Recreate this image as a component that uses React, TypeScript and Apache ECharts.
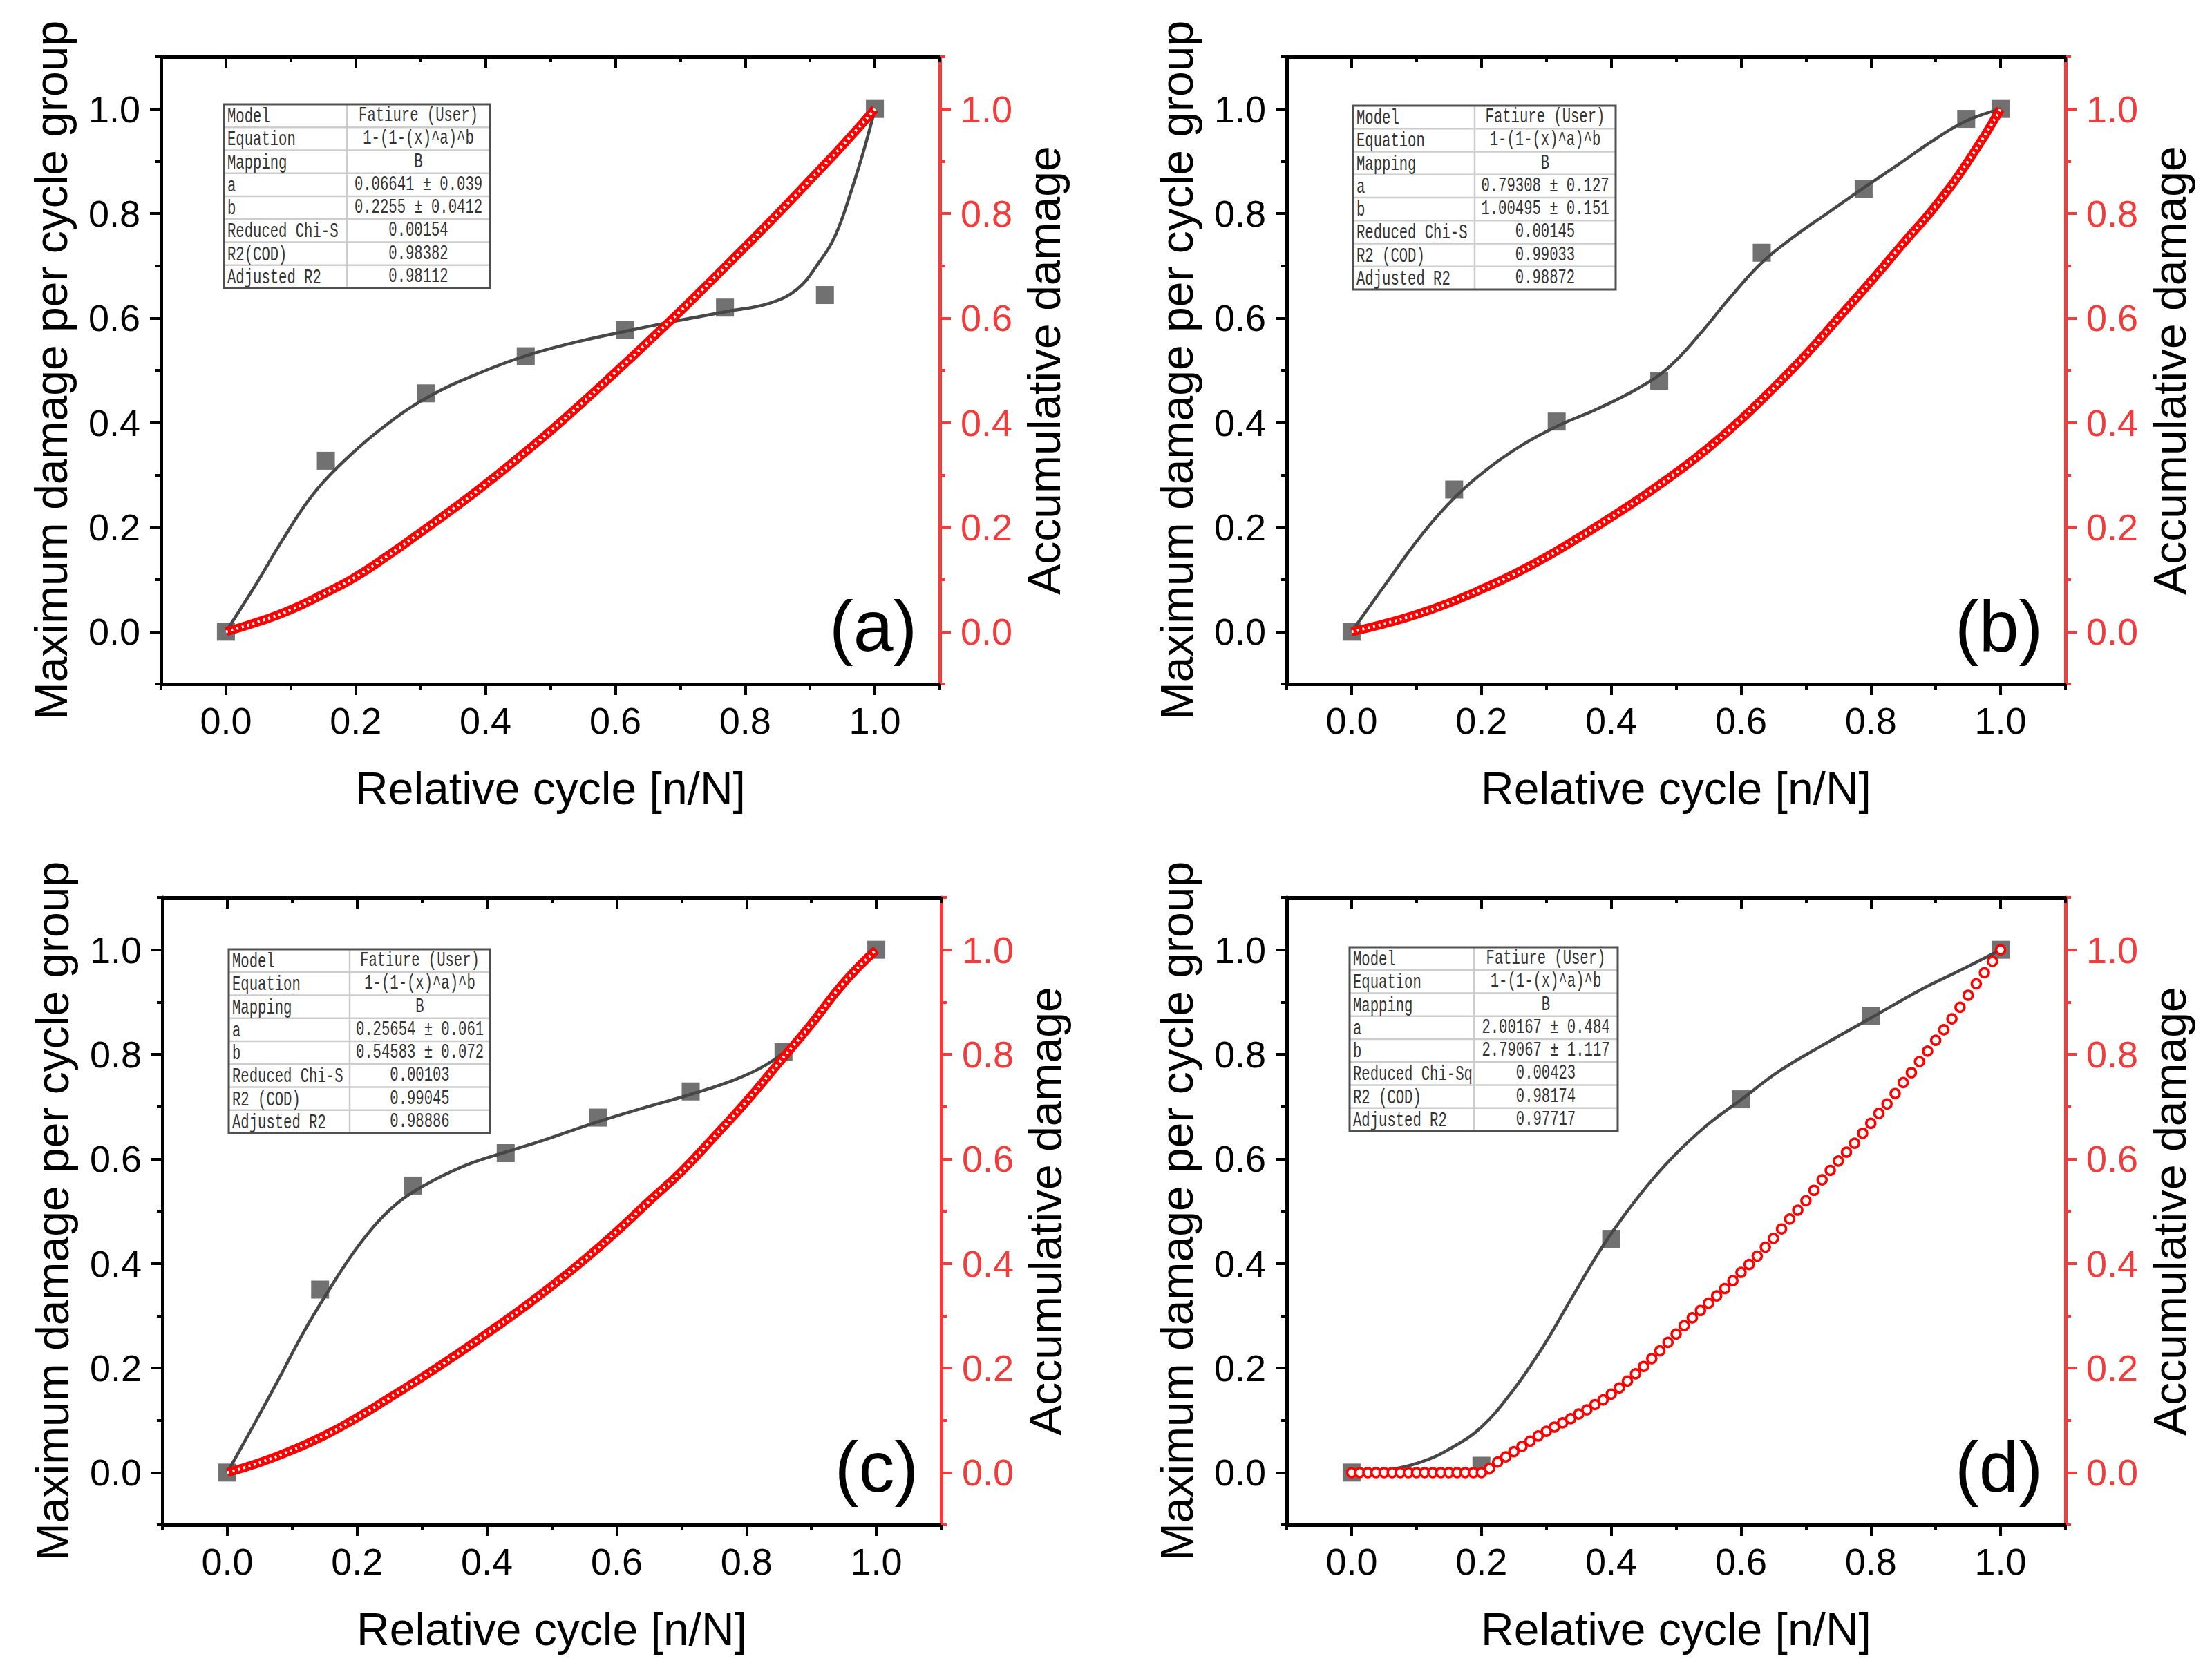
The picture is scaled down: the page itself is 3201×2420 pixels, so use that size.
import { useEffect, useRef } from "react";
import * as echarts from "echarts";

// tick positions shared by every panel
const majorTicks = [0, 0.2, 0.4, 0.6, 0.8, 1.0];
const minorTicks = [-0.1, 0.1, 0.3, 0.5, 0.7, 0.9, 1.1];

const panelLabels = ["(a)", "(b)", "(c)", "(d)"];

// measured damage per cycle group (squares)
const groupXA = [0, 0.154, 0.308, 0.462, 0.615, 0.769, 0.923, 1.0];
const groupYA = [0, 0.327, 0.456, 0.527, 0.577, 0.62, 0.644, 1.0];
const groupXB = [0, 0.158, 0.316, 0.474, 0.632, 0.789, 0.947, 1.0];
const groupYB = [0, 0.272, 0.402, 0.48, 0.725, 0.847, 0.981, 1.0];
const groupXC = [0, 0.143, 0.286, 0.429, 0.571, 0.714, 0.857, 1.0];
const groupYC = [0, 0.35, 0.549, 0.611, 0.679, 0.729, 0.804, 1.0];
const groupXD = [0, 0.2, 0.4, 0.6, 0.8, 1.0];
const groupYD = [0, 0.013, 0.447, 0.714, 0.874, 1.0];

// fitted curves (dark line)
const fitXA = [0, 0.043, 0.087, 0.13, 0.174, 0.239, 0.31, 0.391, 0.465, 0.543, 0.617, 0.696, 0.774, 0.837, 0.88, 0.913, 0.939, 0.964, 0.985, 1.0];
const fitYA = [0, 0.084, 0.175, 0.256, 0.317, 0.388, 0.448, 0.495, 0.529, 0.555, 0.575, 0.595, 0.613, 0.628, 0.655, 0.705, 0.758, 0.845, 0.93, 1.0];
const fitXB = [0, 0.054, 0.109, 0.159, 0.209, 0.264, 0.318, 0.38, 0.442, 0.488, 0.535, 0.581, 0.632, 0.682, 0.736, 0.789, 0.845, 0.899, 0.947, 1.0];
const fitYB = [0, 0.094, 0.187, 0.257, 0.311, 0.358, 0.394, 0.427, 0.466, 0.505, 0.567, 0.636, 0.706, 0.756, 0.803, 0.849, 0.896, 0.942, 0.977, 1.0];
const fitXC = [0, 0.039, 0.078, 0.116, 0.155, 0.194, 0.233, 0.271, 0.318, 0.372, 0.429, 0.488, 0.571, 0.643, 0.713, 0.783, 0.829, 0.868, 0.907, 0.946, 1.0];
const fitYC = [0, 0.087, 0.176, 0.265, 0.346, 0.42, 0.481, 0.524, 0.559, 0.59, 0.613, 0.636, 0.671, 0.698, 0.723, 0.752, 0.779, 0.814, 0.864, 0.923, 1.0];
const fitXD = [0, 0.054, 0.109, 0.155, 0.2, 0.248, 0.295, 0.341, 0.388, 0.442, 0.496, 0.55, 0.601, 0.659, 0.721, 0.798, 0.876, 0.938, 1.0];
const fitYD = [0, 0.005, 0.021, 0.048, 0.087, 0.156, 0.241, 0.338, 0.435, 0.528, 0.605, 0.667, 0.714, 0.768, 0.814, 0.868, 0.923, 0.961, 1.0];

// accumulative damage, sampled every 0.05 of n/N (a-c) and every 0.0125 (d)
const accumStepABC = 0.05;
const accumA = [0, 0.019, 0.042, 0.072, 0.105, 0.146, 0.19, 0.235, 0.282, 0.332, 0.384, 0.439, 0.496, 0.554, 0.613, 0.674, 0.736, 0.799, 0.864, 0.93, 1.0];
const accumB = [0, 0.015, 0.033, 0.055, 0.081, 0.11, 0.143, 0.18, 0.219, 0.26, 0.304, 0.352, 0.406, 0.466, 0.53, 0.6, 0.67, 0.743, 0.815, 0.9, 1.0];
const accumC = [0, 0.019, 0.043, 0.071, 0.105, 0.143, 0.182, 0.223, 0.266, 0.31, 0.357, 0.407, 0.461, 0.519, 0.576, 0.642, 0.71, 0.784, 0.858, 0.937, 1.0];
const accumStepD = 0.0125;
const accumD = [
  0, 0, 0, 0, 0, 0, 0, 0, 0, 0, 0, 0, 0, 0, 0, 0, 0,
  0.008, 0.02, 0.03, 0.04, 0.05, 0.06, 0.07, 0.079, 0.087, 0.095, 0.103, 0.112, 0.12, 0.13, 0.139, 0.15,
  0.162, 0.175, 0.189, 0.203, 0.218, 0.233, 0.249, 0.265,
  0.281, 0.296, 0.31, 0.324, 0.338, 0.352, 0.367, 0.383,
  0.398, 0.414, 0.431, 0.448, 0.466, 0.485, 0.502, 0.52,
  0.54, 0.56, 0.578, 0.596, 0.613, 0.63, 0.649, 0.668,
  0.687, 0.705, 0.725, 0.746, 0.765, 0.786, 0.806, 0.827,
  0.847, 0.868, 0.89, 0.913, 0.935, 0.956, 0.978, 1.0,
];

// fit report tables
const tableKeysA = ["Model", "Equation", "Mapping", "a", "b", "Reduced Chi-S", "R2(COD)", "Adjusted R2"];
const tableValsA = ["Fatiure (User)", "1-(1-(x)^a)^b", "B", "0.06641 ± 0.039", "0.2255 ± 0.0412", "0.00154", "0.98382", "0.98112"];
const tableKeysB = ["Model", "Equation", "Mapping", "a", "b", "Reduced Chi-S", "R2 (COD)", "Adjusted R2"];
const tableValsB = ["Fatiure (User)", "1-(1-(x)^a)^b", "B", "0.79308 ± 0.127", "1.00495 ± 0.151", "0.00145", "0.99033", "0.98872"];
const tableKeysC = ["Model", "Equation", "Mapping", "a", "b", "Reduced Chi-S", "R2 (COD)", "Adjusted R2"];
const tableValsC = ["Fatiure (User)", "1-(1-(x)^a)^b", "B", "0.25654 ± 0.061", "0.54583 ± 0.072", "0.00103", "0.99045", "0.98886"];
const tableKeysD = ["Model", "Equation", "Mapping", "a", "b", "Reduced Chi-Sq", "R2 (COD)", "Adjusted R2"];
const tableValsD = ["Fatiure (User)", "1-(1-(x)^a)^b", "B", "2.00167 ± 0.484", "2.79067 ± 1.117", "0.00423", "0.98174", "0.97717"];

const X_TITLE = "Relative cycle [n/N]";
const Y_TITLE = "Maximum damage per cycle group";
const Y2_TITLE = "Accumulative damage";

const FONT = "'Liberation Sans', Arial, sans-serif";
const MONO = "'Liberation Mono', 'DejaVu Sans Mono', monospace";
const RED = "#f23c3c";
const DARK = "#474747";
const GRID_W = 1127;
const GRID_H = 908;
const AX_MIN = -0.1;
const AX_MAX = 1.1;

const panels = [
  { left: 233, top: 82, table: [91, 69, 385, 178], gx: groupXA, gy: groupYA, fx: fitXA, fy: fitYA, acc: accumA, step: accumStepABC, dots: false, keys: tableKeysA, vals: tableValsA },
  { left: 1862, top: 82, table: [96, 71, 380, 176], gx: groupXB, gy: groupYB, fx: fitXB, fy: fitYB, acc: accumB, step: accumStepABC, dots: false, keys: tableKeysB, vals: tableValsB },
  { left: 235, top: 1299, table: [96, 75, 378, 175], gx: groupXC, gy: groupYC, fx: fitXC, fy: fitYC, acc: accumC, step: accumStepABC, dots: false, keys: tableKeysC, vals: tableValsC },
  { left: 1862, top: 1299, table: [91, 72, 388, 180], gx: groupXD, gy: groupYD, fx: fitXD, fy: fitYD, acc: accumD, step: accumStepD, dots: true, keys: tableKeysD, vals: tableValsD },
];

const zip = (xs: number[], ys: number[]) => xs.map((x, i) => [x, ys[i]]);
const fmt = (v: number) => v.toFixed(1);

function xAxesFor(gi: number): any[] {
  const base = { type: "value", gridIndex: gi, min: AX_MIN, max: AX_MAX, splitLine: { show: false } };
  const black = { color: "#000", width: 4 };
  return [
    {
      ...base,
      position: "bottom",
      axisLine: { show: true, onZero: false, lineStyle: { color: "#000", width: 5 } },
      axisTick: { show: true, inside: false, length: 16, customValues: majorTicks, lineStyle: black },
      axisLabel: { show: true, customValues: majorTicks, formatter: fmt, fontSize: 54, fontFamily: FONT, color: "#000", margin: 26 },
      name: X_TITLE,
      nameLocation: "middle",
      nameGap: 118,
      nameTextStyle: { fontSize: 66, fontFamily: FONT, color: "#000" },
    },
    {
      ...base,
      position: "bottom",
      axisLine: { show: false, onZero: false },
      axisTick: { show: true, inside: false, length: 8, customValues: minorTicks, lineStyle: black },
      axisLabel: { show: false },
    },
    {
      ...base,
      position: "top",
      axisLine: { show: true, onZero: false, lineStyle: { color: "#000", width: 5 } },
      axisTick: { show: true, inside: true, length: 16, customValues: majorTicks, lineStyle: black },
      axisLabel: { show: false },
    },
    {
      ...base,
      position: "top",
      axisLine: { show: false, onZero: false },
      axisTick: { show: true, inside: true, length: 8, customValues: minorTicks, lineStyle: black },
      axisLabel: { show: false },
    },
  ];
}

function yAxesFor(gi: number): any[] {
  const base = { type: "value", gridIndex: gi, min: AX_MIN, max: AX_MAX, splitLine: { show: false } };
  const black = { color: "#000", width: 4 };
  const red = { color: RED, width: 4 };
  return [
    {
      ...base,
      position: "left",
      axisLine: { show: true, onZero: false, lineStyle: { color: "#000", width: 5 } },
      axisTick: { show: true, inside: false, length: 16, customValues: majorTicks, lineStyle: black },
      axisLabel: { show: true, customValues: majorTicks, formatter: fmt, fontSize: 54, fontFamily: FONT, color: "#000", margin: 30 },
      name: Y_TITLE,
      nameLocation: "middle",
      nameRotate: 90,
      nameGap: 126,
      nameTextStyle: { fontSize: 66, fontFamily: FONT, color: "#000" },
    },
    {
      ...base,
      position: "left",
      axisLine: { show: false, onZero: false },
      axisTick: { show: true, inside: false, length: 8, customValues: minorTicks, lineStyle: black },
      axisLabel: { show: false },
    },
    {
      ...base,
      position: "right",
      axisLine: { show: true, onZero: false, lineStyle: { color: RED, width: 5 } },
      axisTick: { show: true, inside: false, length: 16, customValues: majorTicks, lineStyle: red },
      axisLabel: { show: true, customValues: majorTicks, formatter: fmt, fontSize: 54, fontFamily: FONT, color: RED, margin: 30 },
      name: Y2_TITLE,
      nameLocation: "middle",
      nameRotate: 90,
      nameGap: 118,
      nameTextStyle: { fontSize: 66, fontFamily: FONT, color: "#000" },
    },
    {
      ...base,
      position: "right",
      axisLine: { show: false, onZero: false },
      axisTick: { show: true, inside: false, length: 8, customValues: minorTicks, lineStyle: red },
      axisLabel: { show: false },
    },
  ];
}

function seriesFor(gi: number): any[] {
  const p = panels[gi];
  const xi = gi * 4;
  const accData = p.acc.map((v, i) => [i * p.step, v]);
  const out: any[] = [
    {
      type: "scatter",
      xAxisIndex: xi,
      yAxisIndex: xi,
      symbol: "rect",
      symbolSize: 26,
      itemStyle: { color: "#4d4d4d" },
      data: zip(p.gx, p.gy),
      z: 3,
    },
    {
      type: "line",
      xAxisIndex: xi,
      yAxisIndex: xi,
      data: zip(p.fx, p.fy),
      smooth: 0.4,
      symbol: "none",
      lineStyle: { color: DARK, width: 4.5 },
      z: 4,
    },
  ];
  if (p.dots) {
    out.push({
      type: "line",
      xAxisIndex: xi,
      yAxisIndex: xi + 2,
      data: accData,
      symbol: "circle",
      symbolSize: 13,
      showSymbol: true,
      showAllSymbol: true,
      itemStyle: { color: "#fff", borderColor: "#ff0000", borderWidth: 3.5 },
      lineStyle: { width: 0, opacity: 0 },
      z: 5,
    });
  } else {
    out.push(
      {
        type: "line",
        xAxisIndex: xi,
        yAxisIndex: xi + 2,
        data: accData,
        smooth: true,
        symbol: "none",
        lineStyle: { color: "#ff0000", width: 13 },
        z: 5,
      },
      {
        type: "line",
        xAxisIndex: xi,
        yAxisIndex: xi + 2,
        data: accData,
        smooth: true,
        symbol: "none",
        lineStyle: { color: "#fff", width: 4, type: [3, 5] },
        z: 6,
      }
    );
  }
  return out;
}

function tableGraphic(gi: number): any {
  const p = panels[gi];
  const [tx, ty, w, col] = p.table;
  const rh = 33.25;
  const h = rh * 8;
  const children: any[] = [
    { type: "rect", shape: { x: 0, y: 0, width: w, height: h }, style: { fill: "#fff" } },
  ];
  for (let i = 1; i < 8; i++) {
    children.push({ type: "line", shape: { x1: 0, y1: i * rh, x2: w, y2: i * rh }, style: { stroke: "#cdcdcd", lineWidth: 2.5 } });
  }
  children.push({ type: "line", shape: { x1: col, y1: 0, x2: col, y2: h }, style: { stroke: "#cdcdcd", lineWidth: 2.5 } });
  children.push({ type: "rect", shape: { x: 0, y: 0, width: w, height: h }, style: { fill: "none", stroke: "#505050", lineWidth: 3 } });
  const textStyle = { fontSize: 29, fontFamily: MONO, fill: "#333333" };
  p.keys.forEach((k, i) => {
    children.push({
      type: "text",
      x: 5,
      y: (i + 0.5) * rh + 2,
      scaleX: 0.71,
      style: { ...textStyle, text: k, textAlign: "left", align: "left", textVerticalAlign: "middle", verticalAlign: "middle" },
    });
  });
  p.vals.forEach((v, i) => {
    children.push({
      type: "text",
      x: col + (w - col) / 2,
      y: (i + 0.5) * rh,
      scaleX: 0.71,
      style: { ...textStyle, text: v, textAlign: "center", align: "center", textVerticalAlign: "middle", verticalAlign: "middle" },
    });
  });
  return { type: "group", x: p.left + tx, y: p.top + ty, children, z: 20 };
}

function labelGraphic(gi: number): any {
  const p = panels[gi];
  const sx = GRID_W / (AX_MAX - AX_MIN);
  const sy = GRID_H / (AX_MAX - AX_MIN);
  return {
    type: "text",
    x: p.left + (1.065 - AX_MIN) * sx,
    y: p.top + (AX_MAX - 0) * sy - 8,
    z: 20,
    style: {
      text: panelLabels[gi],
      fontSize: 104,
      fontFamily: FONT,
      fill: "#000",
      textAlign: "right",
      align: "right",
      textVerticalAlign: "middle",
      verticalAlign: "middle",
    },
  };
}

function buildOption(): any {
  const idx = [0, 1, 2, 3];
  return {
    animation: false,
    backgroundColor: "#fff",
    grid: panels.map((p) => ({
      left: p.left,
      top: p.top,
      width: GRID_W,
      height: GRID_H,
      containLabel: false,
      outerBoundsMode: "none",
    })),
    xAxis: idx.flatMap(xAxesFor),
    yAxis: idx.flatMap(yAxesFor),
    series: idx.flatMap(seriesFor),
    graphic: [...idx.map(tableGraphic), ...idx.map(labelGraphic)],
  };
}

export default function App() {
  const chartRef = useRef<HTMLDivElement>(null);

  useEffect(() => {
    if (!chartRef.current) return;
    const chart = echarts.init(chartRef.current, undefined, { renderer: "svg" });
    chart.setOption(buildOption());
    return () => chart.dispose();
  }, []);

  return (
    <div
      ref={chartRef}
      style={{ position: "absolute", left: 0, top: 0, width: 3201, height: 2420, background: "#fff" }}
    />
  );
}
